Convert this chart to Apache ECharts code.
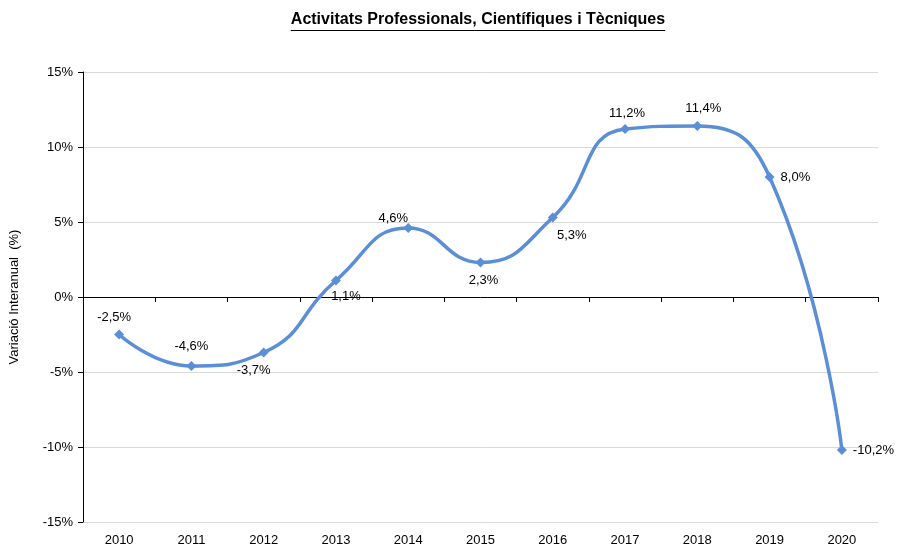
<!DOCTYPE html>
<html>
<head>
<meta charset="utf-8">
<script src="https://cdn.jsdelivr.net/npm/echarts@6/dist/echarts.min.js"></script>
<style>
  html, body { margin: 0; padding: 0; background: #fff; }
  #chart { width: 900px; height: 547px; }
</style>
</head>
<body>
<div id="chart"></div>
<script>
const years = ['2010', '2011', '2012', '2013', '2014', '2015', '2016', '2017', '2018', '2019', '2020']
const variacio = [-2.5, -4.6, -3.7, 1.1, 4.6, 2.3, 5.3, 11.2, 11.4, 8.0, -10.2]
const labelPos = ['top', 'top', 'bottom', 'bottom', 'top', 'bottom', 'bottom', 'top', 'top', 'right', 'right']
const labelShift = [[-5, 0], [0, -2], [-10, 0], [10, -2], [-15, 8], [3, 0], [19, 0], [2, 2], [6, 0], [0, 0], [0, 0]]

const titleText = 'Activitats Professionals, Científiques i Tècniques'
const font = 'Liberation Sans, Arial, sans-serif'

const chart = echarts.init(document.getElementById('chart'))

// width of the title, for placing it and its underline
const ctx = document.createElement('canvas').getContext('2d')
ctx.font = 'bold 16px ' + font
const titleW = ctx.measureText(titleText).width
const titleCx = 478

const fmt = v => v.toFixed(1).replace('.', ',') + '%'

const option = {
  backgroundColor: '#fff',
  animation: false,
  title: {
    text: titleText,
    left: titleCx - titleW / 2,
    top: 12,
    padding: 0,
    textStyle: { fontFamily: font, fontSize: 16, fontWeight: 'bold', color: '#000' }
  },
  graphic: [{
    type: 'line',
    shape: { x1: titleCx - titleW / 2, y1: 30.5, x2: titleCx + titleW / 2, y2: 30.5 },
    style: { stroke: '#000', lineWidth: 1.2 }
  }],
  grid: { left: 83, right: 22, top: 72, bottom: 22, containLabel: false },
  xAxis: [
    {
      type: 'category',
      data: years,
      position: 'bottom',
      axisLine: { show: false, onZero: false },
      axisTick: { show: false },
      axisLabel: { color: '#000', fontFamily: font, fontSize: 13, margin: 12 }
    },
    {
      type: 'category',
      data: years,
      position: 'bottom',
      axisLine: { show: true, onZero: true, lineStyle: { color: '#000', width: 1 } },
      axisTick: { show: true, length: 5, lineStyle: { color: '#000' } },
      axisLabel: { show: false }
    }
  ],
  yAxis: {
    type: 'value',
    min: -15,
    max: 15,
    interval: 5,
    name: 'Variació Interanual  (%)',
    nameLocation: 'middle',
    nameGap: 62,
    nameTextStyle: { fontFamily: font, fontSize: 13, color: '#000' },
    axisLine: { show: true, lineStyle: { color: '#000' } },
    axisTick: { show: true, length: 5, lineStyle: { color: '#000' } },
    axisLabel: { formatter: '{value}%', color: '#000', fontFamily: font, fontSize: 13, margin: 10 },
    splitLine: { lineStyle: { color: '#d9d9d9', width: 1 } }
  },
  series: [{
    type: 'line',
    xAxisIndex: 0,
    data: variacio.map((v, i) => ({
      value: v,
      label: { position: labelPos[i], offset: labelShift[i] }
    })),
    smooth: 0.5,
    symbol: 'diamond',
    symbolSize: 10,
    lineStyle: { color: '#5a8ed6', width: 3.5 },
    itemStyle: { color: '#5a8ed6' },
    label: {
      show: true,
      distance: 6,
      color: '#000',
      fontFamily: font,
      fontSize: 13,
      formatter: p => fmt(p.value)
    }
  }]
}

chart.setOption(option)

window.addEventListener('resize', () => {
  if (chart) chart.resize()
})
</script>
</body>
</html>
